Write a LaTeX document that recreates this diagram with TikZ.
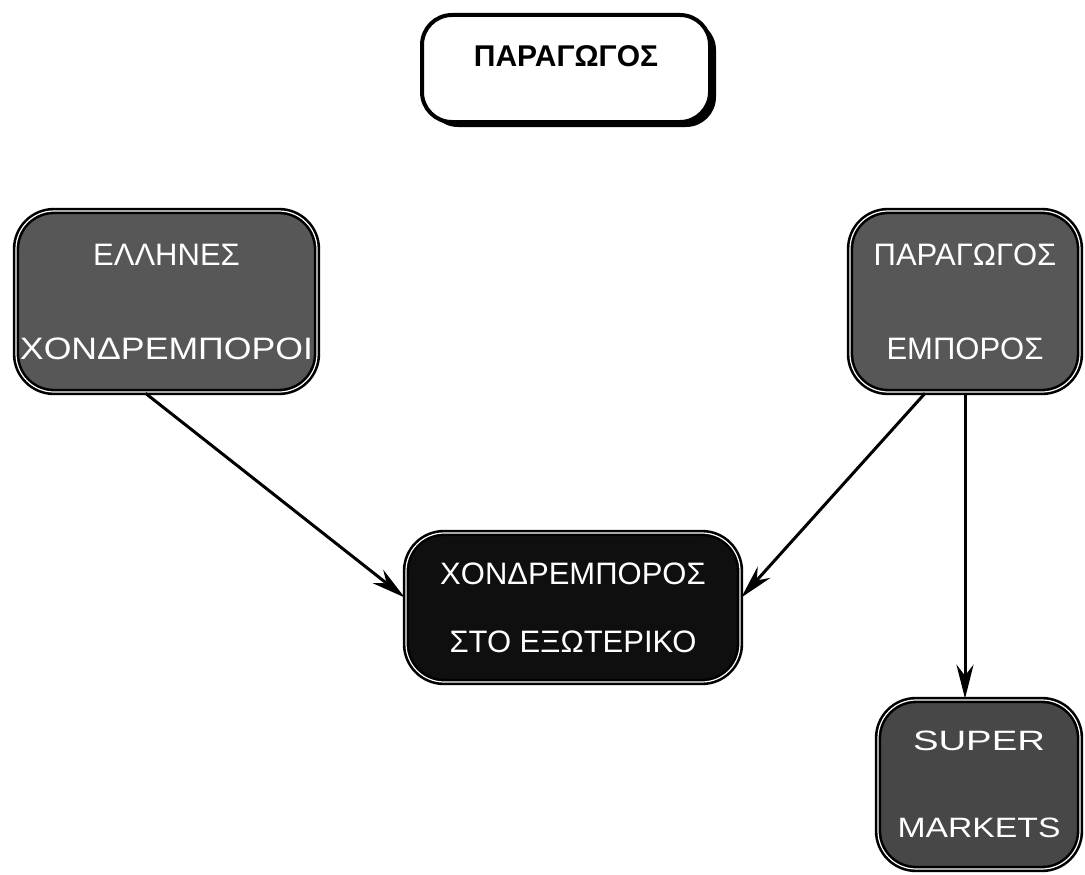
\documentclass[tikz,border=0pt]{standalone}
\usepackage{fontspec}
\setmainfont{Liberation Sans}
\usetikzlibrary{arrows.meta,shadows}
\newcommand{\hwid}[2]{\resizebox{#1}{\height}{#2}}
\begin{document}
\begin{tikzpicture}[x=1pt,y=-1pt,
  topbox/.style={rounded corners=30pt, draw=black, line width=4pt, fill=white,
    inner sep=0pt, text height=23pt, text depth=27pt,
    font=\fontsize{30}{36}\selectfont\bfseries,
    drop shadow={shadow xshift=6pt, shadow yshift=-5pt, fill=black, opacity=1}},
  darkbox/.style={rounded corners=38pt, draw=black, line width=2.6pt,
    double=white, double distance=1.2pt, inner sep=0pt, text=white,
    align=center},
  sidefill/.style={fill=black!66},
  midfill/.style={fill=black!94},
  supfill/.style={fill=black!72},
  flow/.style={draw=black, line width=3pt, -{Stealth[length=34pt,width=17pt]}}
]
\useasboundingbox (0,0) rectangle (1085,875);

\node[topbox, minimum width=288pt, minimum height=107pt] (prod) at (566,68.5) {ΠΑΡΑΓΩΓΟΣ};

\node[darkbox, sidefill, minimum width=301pt, minimum height=181pt,
  font=\fontsize{31}{94}\selectfont] (ell) at (166.5,301.5)
  {ΕΛΛΗΝΕΣ\\\hwid{293pt}{ΧΟΝΔΡΕΜΠΟΡΟΙ}};

\node[darkbox, sidefill, minimum width=230pt, minimum height=181pt,
  font=\fontsize{31}{94}\selectfont] (pe) at (965,301.5)
  {ΠΑΡΑΓΩΓΟΣ\\ΕΜΠΟΡΟΣ};

\node[darkbox, midfill, minimum width=334pt, minimum height=149pt,
  font=\fontsize{31}{68}\selectfont] (mid) at (573,607.5)
  {ΧΟΝΔΡΕΜΠΟΡΟΣ\\ΣΤΟ ΕΞΩΤΕΡΙΚΟ};

\node[darkbox, supfill, minimum width=202pt, minimum height=169pt,
  font=\fontsize{28}{87}\selectfont] (sm) at (979,784.5)
  {\hwid{132pt}{SUPER}\\\hwid{163pt}{MARKETS}};

\draw[flow] ([xshift=-21pt]ell.south) -- ([yshift=10pt]mid.west);
\draw[flow] ([xshift=-40pt]pe.south) -- ([yshift=10pt]mid.east);
\draw[flow] (pe.south) -- (pe.south |- sm.north);
\end{tikzpicture}
\end{document}
